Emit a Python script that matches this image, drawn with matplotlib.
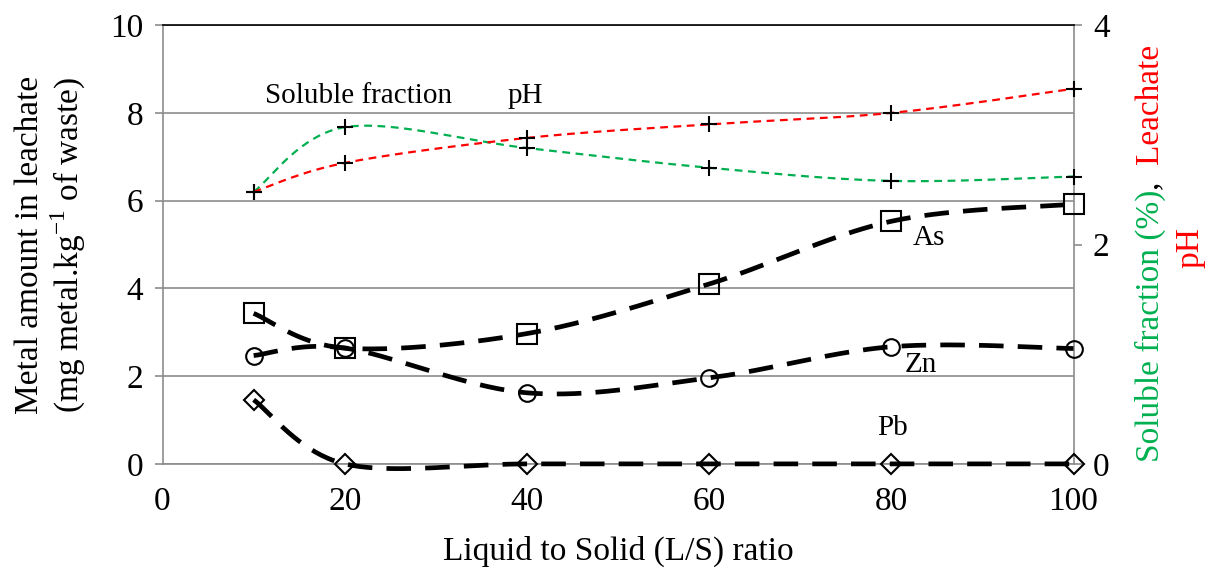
import matplotlib
matplotlib.use("Agg")
import matplotlib.pyplot as plt
import numpy as np

# data
ls_ratio = [10, 20, 40, 60, 80, 100]
arsenic = [3.43, 2.64, 2.97, 4.10, 5.53, 5.92]
zinc = [2.47, 2.64, 1.62, 1.96, 2.67, 2.63]
lead = [1.46, 0.0, 0.0, 0.0, 0.0, 0.0]
leachate_ph = [6.20, 6.86, 7.43, 7.74, 8.00, 8.55]
soluble_frac = [2.48, 3.07, 2.88, 2.70, 2.58, 2.62]

FONT = "Liberation Serif"
plt.rcParams["font.family"] = FONT
plt.rcParams["mathtext.fontset"] = "custom"
plt.rcParams["mathtext.rm"] = FONT


def smooth(x, y, n=40):
    # Excel-style smoothed line (Catmull-Rom bezier)
    p = np.column_stack([x, y]).astype(float)
    pts = np.vstack([p[0], p, p[-1]])
    out = []
    t = np.linspace(0, 1, n)[:, None]
    for i in range(1, len(pts) - 2):
        p0, p1, p2, p3 = pts[i - 1], pts[i], pts[i + 1], pts[i + 2]
        c1 = p1 + (p2 - p0) / 6
        c2 = p2 - (p3 - p1) / 6
        seg = ((1 - t) ** 3) * p1 + 3 * ((1 - t) ** 2) * t * c1 + 3 * (1 - t) * t ** 2 * c2 + t ** 3 * p2
        out.append(seg if i == 1 else seg[1:])
    s = np.vstack(out)
    return s[:, 0], s[:, 1]


fig = plt.figure(figsize=(12.13, 5.72), dpi=100)
ax = fig.add_axes([0.134, 0.189, 0.751, 0.767])
ax2 = ax.twinx()
# soluble fraction axis sits behind the main one so the black lines stay on top
ax.set_zorder(ax2.get_zorder() + 1)
ax.patch.set_visible(False)

grey = "#8c8c8c"
TS = 24

# metals: thick black dashed smoothed lines
for vals, mk, ms in [(arsenic, "s", 15), (zinc, "o", 12), (lead, "D", 10)]:
    sx, sy = smooth(ls_ratio, vals)
    ax.plot(sx, sy, color="black", lw=3.4, ls=(0, (5.2, 3.0)), zorder=3, clip_on=False)
    ax.plot(ls_ratio, vals, ls="none", marker=mk, ms=ms, mfc="none",
            mec="black", mew=1.5, zorder=4, clip_on=False)

# leachate pH on left scale
sx, sy = smooth(ls_ratio, leachate_ph)
ax.plot(sx, sy, color="#ff0000", lw=1.6, ls=(0, (3.5, 2.5)), zorder=3)
ax.plot(ls_ratio, leachate_ph, ls="none", marker="+", ms=12, mew=1.5,
        color="black", zorder=4, clip_on=False)

# soluble fraction on right scale
sx, sy = smooth(ls_ratio, soluble_frac)
ax2.plot(sx, sy, color="#00b050", lw=1.6, ls=(0, (3.5, 2.5)), zorder=3)
ax2.plot(ls_ratio, soluble_frac, ls="none", marker="+", ms=12, mew=1.5,
         color="black", zorder=4, clip_on=False)

ax.set_xlim(0, 100)
ax.set_ylim(0, 10)
ax2.set_ylim(0, 4)
ax.set_xticks([0, 20, 40, 60, 80, 100])
ax.set_yticks([0, 2, 4, 6, 8, 10])
ax2.set_yticks([0, 2, 4])
ax.yaxis.grid(True, color=grey, lw=1.2, zorder=0)

for s in ("left", "bottom"):
    ax.spines[s].set_color(grey)
    ax.spines[s].set_linewidth(1.2)
    ax.spines[s].set_zorder(1)
ax.spines["right"].set_visible(False)
ax.spines["top"].set_color("black")
ax.spines["top"].set_linewidth(1.2)
for s in ("left", "top", "bottom"):
    ax2.spines[s].set_visible(False)
ax2.spines["right"].set_color(grey)
ax2.spines["right"].set_linewidth(1.2)

ax.tick_params(axis="y", direction="out", length=6, color=grey, width=1.2,
               labelsize=TS, pad=8)
ax.tick_params(axis="x", length=0, labelsize=TS, pad=16)
ax2.tick_params(axis="y", direction="out", length=6, color=grey, width=1.2,
                labelsize=TS, pad=8)

ax.set_xlabel("Liquid to Solid (L/S) ratio", fontsize=TS, labelpad=14)
ax.set_ylabel("Metal amount in leachate\n(mg metal.kg$^{-1}$ of waste)",
              fontsize=TS, labelpad=16, linespacing=1.1)

# inline labels
ax.text(11.2, 8.22, "Soluble fraction", fontsize=21)
ax.text(37.9, 8.22, "pH", fontsize=21)
ax.text(82.3, 5.0, "As", fontsize=21)
ax.text(81.5, 2.1, "Zn", fontsize=21)
ax.text(78.4, 0.65, "Pb", fontsize=21)

# two-colour right axis label
fig.canvas.draw()
r = fig.canvas.get_renderer()
x1 = 1150 / 1213
cur = 1 - 462 / 572
pieces = [("Soluble fraction (%)", "#00b050"), (",  ", "black"), ("Leachate", "#ff0000")]
for txt, col in pieces:
    t = fig.text(x1, cur, txt, rotation=90, rotation_mode="anchor", color=col,
                 fontsize=TS, ha="left", va="center")
    bb = t.get_window_extent(r)
    cur += bb.height / fig.bbox.height
fig.text(1190 / 1213, 1 - 248 / 572, "pH", rotation=90, color="#ff0000",
         fontsize=TS, ha="center", va="center")

fig.savefig("out.png", dpi=100)
